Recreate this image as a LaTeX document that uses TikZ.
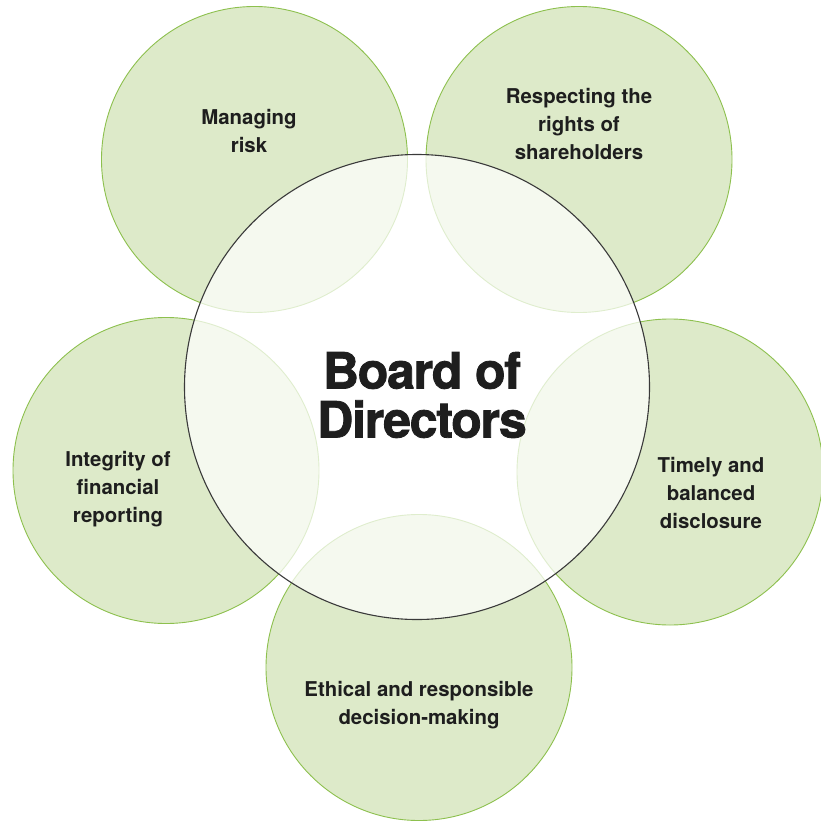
\documentclass[tikz,border=0pt]{standalone}
\usepackage{fontspec}
\newfontfamily\labelfont{TeX Gyre Heros Bold}
\newfontfamily\titlefont{TeX Gyre Heros Bold}[LetterSpace=-2.5, FakeBold=1.6]
\definecolor{leafFill}{HTML}{DDEAC9}
\definecolor{leafLine}{HTML}{8DC04E}
\definecolor{hubLine}{HTML}{3A3A3A}
\definecolor{inkText}{HTML}{1E1E1E}
\begin{document}
\begin{tikzpicture}[x=1pt,y=-1pt,
  leaf/.style={circle, draw=leafLine, fill=leafFill, line width=0.9pt,
    inner sep=0pt, outer sep=0pt, minimum size=306pt},
  hub/.style={circle, draw=hubLine, fill=white, fill opacity=0.72,
    draw opacity=1, line width=1.1pt, inner sep=0pt, outer sep=0pt,
    minimum size=465pt},
  leaflabel/.style={align=center, text=inkText, inner sep=0pt,
    font=\labelfont\fontsize{20.4}{28}\selectfont},
  hublabel/.style={align=center, text=inkText, inner sep=0pt,
    font=\titlefont\fontsize{50}{49}\selectfont}]
\useasboundingbox (0,0) rectangle (821,821);

% five topic circles
\node[leaf] (risk)    at (254.5,159.5) {};
\node[leaf] (rights)  at (579,159.5) {};
\node[leaf] (report)  at (166,470.5) {};
\node[leaf] (disc)    at (670,472) {};
\node[leaf] (ethic)   at (419,667.5) {};

% central board circle, translucent over the topics
\node[hub] (board) at (417,387) {};

% labels
\node[leaflabel] (riskT)   at (249,131) {Managing\\risk};
\node[leaflabel] (rightsT) at (579,124) {Respecting the\\rights of\\shareholders};
\node[leaflabel] (reportT) at (118,489) {Integrity of\\financial\\reporting};
\node[leaflabel] (discT)   at (711,493) {Timely and\\balanced\\disclosure};
\node[leaflabel] (ethicT)  at (419,705) {Ethical and responsible\\decision-making};
\node[hublabel]  (boardT)  at (422,395) {Board of\\Directors};
\end{tikzpicture}
\end{document}
